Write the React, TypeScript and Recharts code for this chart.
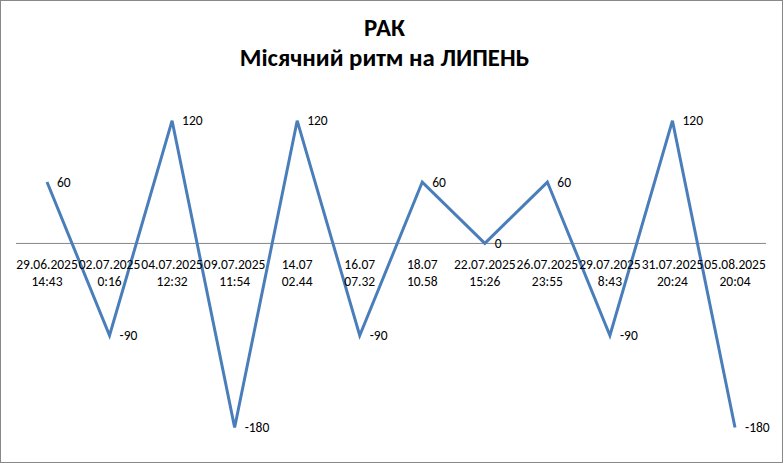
import React from 'react';
import { LineChart, Line, XAxis, YAxis, ReferenceLine, LabelList } from 'recharts';

const dates = ['29.06.2025', '02.07.2025', '04.07.2025', '09.07.2025', '14.07', '16.07', '18.07', '22.07.2025', '26.07.2025', '29.07.2025', '31.07.2025', '05.08.2025'];
const times = ['14:43', '0:16', '12:32', '11:54', '02.44', '07.32', '10.58', '15:26', '23:55', '8:43', '20:24', '20:04'];
const values = [60, -90, 120, -180, 120, -90, 60, 0, 60, -90, 120, -180];

const W = 781;
const H = 461;
const AXIS_H = 2;
const MARGIN = { top: 89, right: 16, bottom: 14 - AXIS_H, left: 15 };
const Y_MIN = -200;
const Y_MAX = 150;
const PLOT_H = H - MARGIN.top - MARGIN.bottom - AXIS_H;
const ZERO_Y = MARGIN.top + (Y_MAX / (Y_MAX - Y_MIN)) * PLOT_H;

const FONT = 'Carlito, Calibri, "Open Sans", sans-serif';

const data = dates.map((d, i) => ({ label: `${d}\n${times[i]}`, value: values[i] }));

// the axis sits at the bottom of the plot; its labels are shifted up under the zero line
const CategoryTick = ({ x, payload }: any) => {
  const [d, t] = String(payload.value).split('\n');
  const y = ZERO_Y + 26;
  return (
    <text x={x} y={y} textAnchor="middle" fontFamily={FONT} fontSize={13.5} fill="#000">
      <tspan x={x} dy={0}>{d}</tspan>
      <tspan x={x} dy={17}>{t}</tspan>
    </text>
  );
};

const App: React.FC = () => {
  return (
    <div
      style={{
        position: 'absolute',
        left: 0,
        top: 0,
        width: 783,
        height: 463,
        boxSizing: 'border-box',
        border: '1px solid #888888',
        background: '#fff',
      }}
    >
      <div
        style={{
          position: 'absolute',
          left: 0,
          right: 14,
          top: 12,
          textAlign: 'center',
          fontFamily: FONT,
          fontWeight: 'bold',
          fontSize: 24.8,
          lineHeight: '30px',
          color: '#000',
        }}
      >
        <div>РАК</div>
        <div>Місячний ритм на ЛИПЕНЬ</div>
      </div>
      <LineChart width={W} height={H} data={data} margin={MARGIN}>
        <XAxis
          dataKey="label"
          interval={0}
          height={AXIS_H}
          axisLine={false}
          tickLine={false}
          tick={<CategoryTick />}
          padding={{ left: 31, right: 31 }}
        />
        <YAxis hide domain={[Y_MIN, Y_MAX]} allowDataOverflow />
        <ReferenceLine y={0} stroke="#868686" strokeWidth={1} />
        <Line
          type="linear"
          dataKey="value"
          stroke="#4a7ebb"
          strokeWidth={3}
          dot={false}
          isAnimationActive={false}
        >
          <LabelList dataKey="value" position="right" offset={10} fontFamily={FONT} fontSize={13.5} fill="#000" />
        </Line>
      </LineChart>
    </div>
  );
};

export default App;
